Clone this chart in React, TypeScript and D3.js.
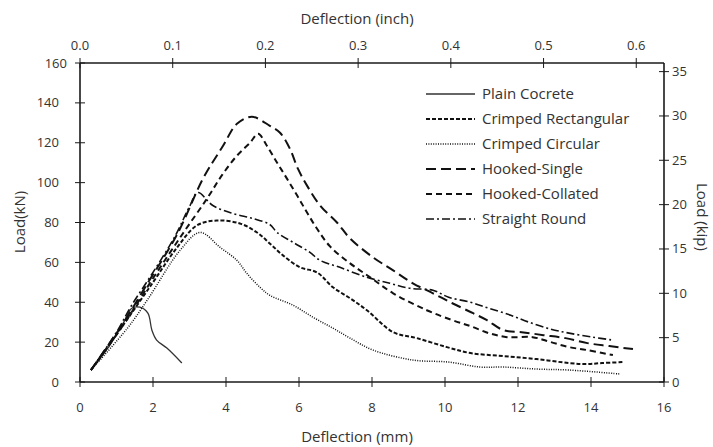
import React from "react";
import * as d3 from "d3";

// Load–deflection curves, deflection in mm, load in kN
const plainX = [0.3, 0.8, 1.2, 1.42, 1.64, 1.86, 1.97, 2.1, 2.38, 2.79];
const plainY = [6, 18, 30, 37, 37.5, 34.5, 26, 21, 17, 9.5];

const crimpRectX = [0.3, 1.2, 2.0, 2.6, 3.2, 3.75, 4.38, 4.85, 5.2, 5.56, 6.03, 6.49, 6.93, 7.4, 7.86, 8.58, 9.23, 10.05, 10.7, 11.6, 12.5, 13.4, 13.9, 14.3, 14.9];
const crimpRectY = [6, 29, 50, 66, 78.5, 81, 79.5, 75, 69.5, 63.5, 57.5, 55, 47.5, 42, 36, 25, 22, 17.5, 14.5, 13, 11.5, 9.5, 9, 9.5, 10];

const crimpCircX = [0.3, 1.3, 1.84, 2.74, 3.29, 3.84, 4.3, 4.57, 4.93, 5.2, 5.84, 6.38, 6.93, 7.4, 8.03, 9.12, 10.1, 10.96, 11.6, 12.5, 13.4, 14.8];
const crimpCircY = [6, 27, 41, 66, 75, 67.5, 61, 54.5, 47.5, 43.5, 38.5, 32.5, 27, 22, 16, 11, 10, 7.5, 7.5, 6.5, 6, 4];

const hookSingleX = [0.3, 1.2, 1.8, 2.66, 3.37, 3.92, 4.3, 4.71, 5.2, 5.48, 5.75, 5.97, 6.22, 6.58, 7.04, 7.4, 8.03, 8.58, 9.12, 9.67, 10.2, 10.77, 11.15, 11.6, 12.1, 12.7, 13.3, 13.9, 14.5, 15.15];
const hookSingleY = [6, 30, 48, 74, 102, 118.5, 129.5, 133, 128.5, 125, 117, 107, 98.5, 88.5, 80, 72, 62.5, 56, 49.5, 44.5, 39.5, 34.5, 31, 26, 25, 23.5, 22, 19.5, 18, 16.5];

const hookCollX = [0.3, 1.2, 2.0, 2.8, 3.48, 3.9, 4.3, 4.66, 4.88, 5.12, 5.4, 5.67, 5.95, 6.22, 6.49, 6.85, 7.4, 7.95, 8.58, 9.5, 10.2, 10.7, 11.2, 11.7, 12.4, 12.9, 13.4, 13.9, 14.6];
const hookCollY = [6, 29, 52, 74, 92, 104, 113.5, 120, 124.5, 118.5, 110, 102, 93.5, 85, 77, 68, 59.5, 52.5, 44.5, 36, 31, 28, 24.5, 22.5, 22.5, 20, 17.5, 16, 13.5];

const straightX = [0.3, 1.0, 1.4, 2.0, 2.6, 3.0, 3.23, 3.64, 4.19, 4.74, 5.2, 5.4, 5.84, 6.3, 6.58, 7.12, 7.86, 8.49, 9.04, 9.67, 10.1, 10.7, 11.2, 11.8, 12.3, 12.9, 13.4, 14.05, 14.6];
const straightY = [6, 25, 38, 55, 73, 88, 95, 88.5, 84.5, 82, 79, 75, 70, 65, 61, 57.5, 52.5, 49.5, 47, 46, 42.5, 40, 37, 33.5, 30, 26.5, 24.5, 22.5, 21];

const seriesNames = ["Plain Cocrete", "Crimped Rectangular", "Crimped Circular", "Hooked-Single", "Hooked-Collated", "Straight Round"];
const seriesXs = [plainX, crimpRectX, crimpCircX, hookSingleX, hookCollX, straightX];
const seriesYs = [plainY, crimpRectY, crimpCircY, hookSingleY, hookCollY, straightY];

const mmTicks = [0, 2, 4, 6, 8, 10, 12, 14, 16];
const inchTicks = [0, 0.1, 0.2, 0.3, 0.4, 0.5, 0.6];
const kNTicks = [0, 20, 40, 60, 80, 100, 120, 140, 160];
const kipTicks = [0, 5, 10, 15, 20, 25, 30, 35];

const MM_PER_INCH = 25.4;
const KN_PER_KIP = 4.448;

const styles = [
  { dash: "none", width: 1.3 },
  { dash: "4,2", width: 2 },
  { dash: "1,1.4", width: 1.5 },
  { dash: "10,5", width: 2 },
  { dash: "6,4", width: 2 },
  { dash: "8,3,2,3", width: 1.6 },
];

export default function App() {
  const W = 713, H = 447;
  const left = 80, right = 664, top = 63, bottom = 382;
  const x = d3.scaleLinear().domain([0, 16]).range([left, right]);
  const xIn = d3.scaleLinear().domain([0, 16 / MM_PER_INCH]).range([left, right]);
  const y = d3.scaleLinear().domain([0, 160]).range([bottom, top]);
  const yKip = d3.scaleLinear().domain([0, 160 / KN_PER_KIP]).range([bottom, top]);

  const line = d3
    .line<[number, number]>()
    .x((d) => x(d[0]))
    .y((d) => y(d[1]))
    .curve(d3.curveCatmullRom.alpha(0.5));

  const axisColor = "#1a1a1a";
  const textColor = "#333";
  const font = "'Open Sans', sans-serif";
  const tl = 5;

  return (
    <div style={{ position: "fixed", left: 0, top: 0 }}>
      <svg width={W} height={H} style={{ display: "block", background: "#fff" }} fontFamily={font}>
        {/* frame axes */}
        <g stroke={axisColor} strokeWidth={1.6} fill="none">
          <line x1={left} x2={right} y1={bottom} y2={bottom} />
          <line x1={left} x2={right} y1={top} y2={top} />
          <line x1={left} x2={left} y1={top} y2={bottom} />
          <line x1={right} x2={right} y1={top} y2={bottom} />
        </g>
        <g stroke={axisColor} strokeWidth={1}>
          {mmTicks.map((t) => (
            <line key={"bx" + t} x1={x(t)} x2={x(t)} y1={bottom - tl} y2={bottom + tl} />
          ))}
          {inchTicks.map((t) => (
            <line key={"tx" + t} x1={xIn(t)} x2={xIn(t)} y1={top - tl} y2={top + tl} />
          ))}
          {kNTicks.map((t) => (
            <line key={"ly" + t} x1={left - tl} x2={left + tl} y1={y(t)} y2={y(t)} />
          ))}
          {kipTicks.map((t) => (
            <line key={"ry" + t} x1={right - tl} x2={right + tl} y1={yKip(t)} y2={yKip(t)} />
          ))}
        </g>
        <g fill={textColor} fontSize={13}>
          {mmTicks.map((t) => (
            <text key={"bl" + t} x={x(t)} y={bottom + 30} textAnchor="middle">{t}</text>
          ))}
          {inchTicks.map((t) => (
            <text key={"tl" + t} x={xIn(t)} y={top - 13} textAnchor="middle">{t.toFixed(1)}</text>
          ))}
          {kNTicks.map((t) => (
            <text key={"ll" + t} x={t === 160 ? left - 13 : left - 21} y={y(t) + 4.5} textAnchor="end">{t}</text>
          ))}
          {kipTicks.map((t) => (
            <text key={"rl" + t} x={right + 8} y={yKip(t) + 4.5} textAnchor="start">{t}</text>
          ))}
        </g>
        <g fill={textColor} fontSize={15}>
          <text x={357} y={442} textAnchor="middle">Deflection (mm)</text>
          <text x={357} y={24} textAnchor="middle">Deflection (inch)</text>
          <text transform={`translate(25,222) rotate(-90)`} textAnchor="middle">Load(kN)</text>
          <text transform={`translate(697,217) rotate(90)`} textAnchor="middle">Load (kip)</text>
        </g>
        {/* curves */}
        <g fill="none">
          {seriesNames.map((name, i) => (
            <path
              key={name}
              d={line(seriesXs[i].map((v, j) => [v, seriesYs[i][j]] as [number, number])) || ""}
              strokeDasharray={styles[i].dash}
              strokeWidth={styles[i].width}
              stroke={i === 0 ? "#333" : "#111"}
            />
          ))}
        </g>
        {/* legend */}
        <g>
          {seriesNames.map((name, i) => {
            const ly = 94 + i * 25;
            return (
              <g key={"lg" + name}>
                <line x1={426} x2={475} y1={ly} y2={ly} stroke={i === 0 ? "#333" : "#111"} strokeWidth={styles[i].width} strokeDasharray={styles[i].dash} />
                <text x={482} y={ly + 5} fill={textColor} fontSize={15}>{name}</text>
              </g>
            );
          })}
        </g>
      </svg>
    </div>
  );
}
